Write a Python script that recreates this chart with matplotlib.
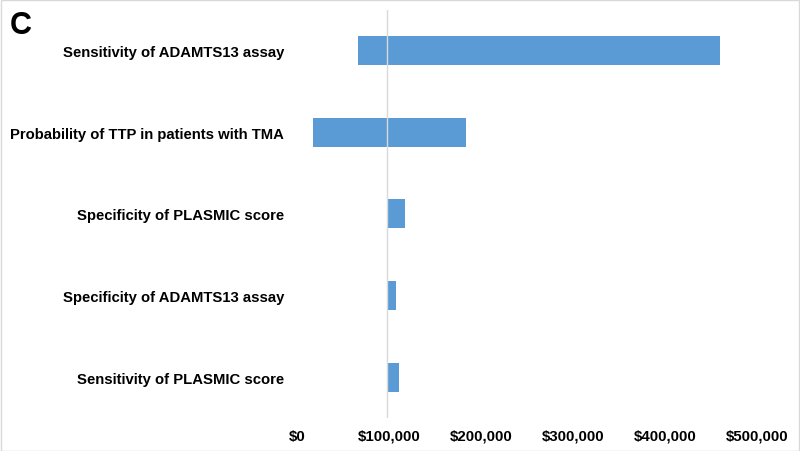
import matplotlib
matplotlib.use("Agg")
import matplotlib.pyplot as plt
from matplotlib.ticker import FuncFormatter

# ---- data (top to bottom) ----
PARAMS = [
    "Sensitivity of ADAMTS13 assay",
    "Probability of TTP in patients with TMA",
    "Specificity of PLASMIC score",
    "Specificity of ADAMTS13 assay",
    "Sensitivity of PLASMIC score",
]
LOW = [66000, 17500, 98000, 98000, 98000]
HIGH = [460000, 184000, 118000, 108000, 111000]
BASE = 98000
XTICKS = [0, 100000, 200000, 300000, 400000, 500000]

plt.rcParams["font.family"] = ["Liberation Sans", "DejaVu Sans"]

fig = plt.figure(figsize=(8.0, 4.52), dpi=100)
fig.patch.set_facecolor("white")
ax = fig.add_axes([0.371, 0.073, 0.575, 0.903])

y = list(range(len(PARAMS)))
widths = [h - l for l, h in zip(LOW, HIGH)]
ax.barh(y, widths, left=LOW, height=0.355, color="#5b9bd5", zorder=2)
ax.axvline(BASE, color="#d9d9d9", lw=1.0, zorder=3)

ax.set_ylim(len(PARAMS) - 0.5, -0.5)
ax.set_xlim(0, 500000)
ax.set_yticks(y)
ax.set_yticklabels(PARAMS, fontsize=10.7, fontweight="bold")
ax.set_xticks(XTICKS)
ax.xaxis.set_major_formatter(FuncFormatter(lambda v, p: f"${v:,.0f}"))
ax.tick_params(axis="x", labelsize=10.8, length=0, pad=15.5)
for lab in ax.get_xticklabels():
    lab.set_fontweight("bold")
    lab.set_verticalalignment("baseline")
ax.tick_params(axis="y", length=0, pad=9)
for s in ax.spines.values():
    s.set_visible(False)

fig.text(0.012, 0.975, "C", fontsize=22, fontweight="bold", va="top", ha="left")

# light frame around whole figure
fig.add_artist(matplotlib.patches.Rectangle((0.001, 0.001), 0.998, 0.997,
               transform=fig.transFigure, fill=False, edgecolor="#d9d9d9", lw=1.0))

fig.savefig("out.png", dpi=100)
